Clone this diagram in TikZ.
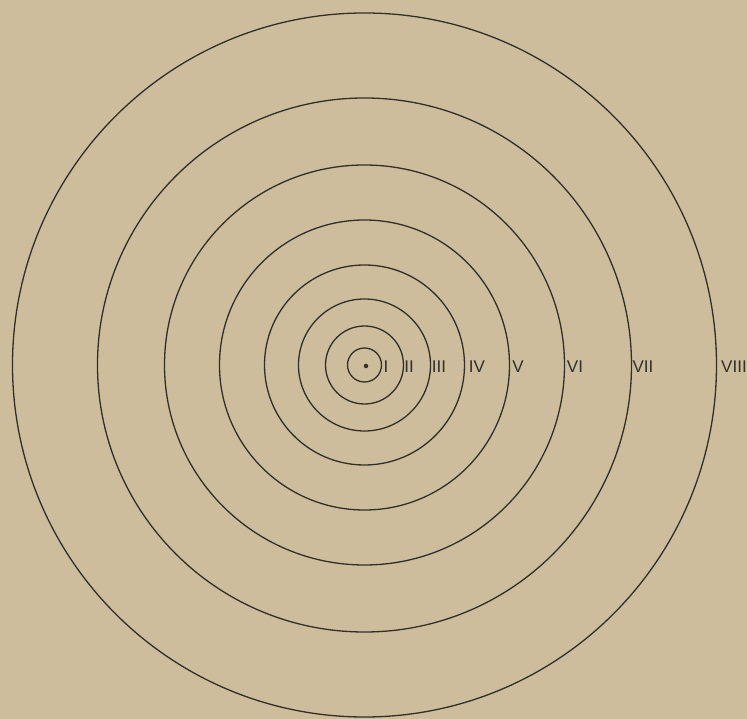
\documentclass[tikz,border=0pt]{standalone}
\usepackage{fontspec}
\setmainfont{Liberation Sans}
\definecolor{paper}{RGB}{205, 189, 157}
\definecolor{ink}{RGB}{50, 47, 40}
\begin{document}
\begin{tikzpicture}[x=1pt, y=1pt, line width=1.3pt,
        ring/.style={draw=ink, line width=1.3pt},
        numlabel/.style={text=ink, font=\fontsize{17}{18}\selectfont, inner sep=0pt},
        dot/.style={circle, fill=ink, inner sep=0pt, minimum size=4.5pt}]

    \fill[paper] (-364.5,-354) rectangle (382.5,365);
    \useasboundingbox (-364.5,-354) rectangle (382.5,365);

    % --- środek ---
    \node[dot] (c) at (1.5,-1) {};

    % --- okręgi i numery ---
    \foreach \r/\lx/\lab [count=\i] in {17/21.5/I, 39/44.5/II, 66/74.5/III, 100/112.5/IV,
            145/153.5/V, 200/210.5/VI, 267/278.5/VII, 352/369.5/VIII} {
        \draw[ring] (0,0) circle (\r);
        \node[numlabel] (n\i) at (\lx,-2) {\lab};
    }

\end{tikzpicture}
\end{document}
